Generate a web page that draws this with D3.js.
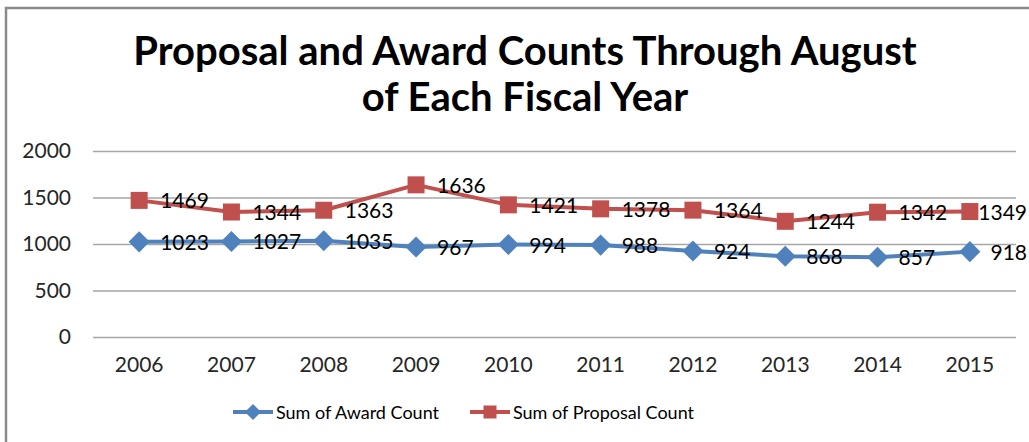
<!DOCTYPE html>
<html>
<head>
<meta charset="utf-8">
<script src="https://cdn.jsdelivr.net/npm/d3@7"></script>
<style>
  body { margin: 0; background: #fff; }
  svg { display: block; font-family: Lato, "Open Sans", sans-serif; }
</style>
</head>
<body>
<div id="chart"></div>
<script>
// --- data ---
const years = ["2006", "2007", "2008", "2009", "2010", "2011", "2012", "2013", "2014", "2015"];
const awardCounts = [1023, 1027, 1035, 967, 994, 988, 924, 868, 857, 918];
const proposalCounts = [1469, 1344, 1363, 1636, 1421, 1378, 1364, 1244, 1342, 1349];
const yTicks = [0, 500, 1000, 1500, 2000];
const titleLines = ["Proposal and Award Counts Through August", "of Each Fiscal Year"];

const series = [
  { name: "Sum of Award Count", values: awardCounts, color: "#4F81BD", marker: "diamond" },
  { name: "Sum of Proposal Count", values: proposalCounts, color: "#C0504D", marker: "square" }
];

const width = 1029, height = 442;
const plot = { left: 93, right: 1016, top: 151, bottom: 337 };

const svg = d3.select("#chart").append("svg")
  .attr("width", width).attr("height", height);

// chart frame (clipped at right/bottom like the screenshot)
svg.append("rect")
  .attr("x", 6).attr("y", 8)
  .attr("width", width + 10).attr("height", height + 10)
  .attr("fill", "none").attr("stroke", "#8a8a8a").attr("stroke-width", 2.5);

// title
svg.append("g").selectAll("text").data(titleLines).enter().append("text")
  .attr("x", 525).attr("y", (d, i) => 65 + i * 46)
  .attr("text-anchor", "middle")
  .attr("font-size", 40).attr("font-weight", "bold").attr("fill", "#000")
  .text(d => d);

const x = d3.scaleBand().domain(years).range([plot.left, plot.right]);
const y = d3.scaleLinear().domain([0, 2000]).range([plot.bottom, plot.top]);
const cx = d => x(d) + x.bandwidth() / 2;

// gridlines + y labels
const yAxis = d3.axisLeft(y).tickValues(yTicks).tickFormat(d3.format("d"))
  .tickSize(-(plot.right - plot.left)).tickPadding(22);
const gy = svg.append("g").attr("transform", `translate(${plot.left},0)`).call(yAxis);
gy.select(".domain").remove();
gy.selectAll(".tick line").attr("stroke", "#a6a6a6").attr("stroke-width", 1.3);
gy.selectAll(".tick text").attr("font-size", 21).attr("fill", "#262626")
  .attr("font-family", "Lato, sans-serif");

// x labels
const xAxis = d3.axisBottom(x).tickSize(0).tickPadding(20);
const gx = svg.append("g").attr("transform", `translate(0,${plot.bottom})`).call(xAxis);
gx.select(".domain").remove();
gx.selectAll(".tick text").attr("font-size", 21).attr("fill", "#262626")
  .attr("font-family", "Lato, sans-serif");

const line = d3.line().x((d, i) => cx(years[i])).y(d => y(d));

const drawMarker = (g, type, color, px, py, s) => {
  if (type === "square") {
    g.append("rect").attr("x", px - s / 2).attr("y", py - s / 2)
      .attr("width", s).attr("height", s).attr("fill", color);
  } else {
    const r = s * 0.62;
    g.append("path")
      .attr("d", `M${px},${py - r}L${px + r},${py}L${px},${py + r}L${px - r},${py}Z`)
      .attr("fill", color);
  }
};

series.forEach(s => {
  const g = svg.append("g");
  g.append("path").datum(s.values)
    .attr("d", line).attr("fill", "none")
    .attr("stroke", s.color).attr("stroke-width", 4).attr("stroke-linejoin", "round");
  s.values.forEach((v, i) => drawMarker(g, s.marker, s.color, cx(years[i]), y(v), 17));
  g.selectAll("text.lbl").data(s.values).enter().append("text")
    .attr("class", "lbl")
    .attr("y", d => y(d) + 8)
    .attr("font-size", 21).attr("fill", "#000")
    .text(d => d)
    // keep labels inside the frame, like Excel nudges the last one
    .attr("x", function (d, i) {
      const w = this.getComputedTextLength();
      return Math.min(cx(years[i]) + 21, width - w - 2);
    });
});

// legend
const legendItems = [
  { s: series[0], x0: 233, x1: 273 },
  { s: series[1], x0: 470, x1: 510 }
];
const ly = 412;
legendItems.forEach(it => {
  const g = svg.append("g");
  g.append("line").attr("x1", it.x0).attr("x2", it.x1).attr("y1", ly).attr("y2", ly)
    .attr("stroke", it.s.color).attr("stroke-width", 4);
  drawMarker(g, it.s.marker, it.s.color, (it.x0 + it.x1) / 2, ly, 13);
  g.append("text").attr("x", it.x1 + 3).attr("y", ly + 7)
    .attr("font-size", 18).attr("fill", "#000").text(it.s.name);
});
</script>
</body>
</html>
